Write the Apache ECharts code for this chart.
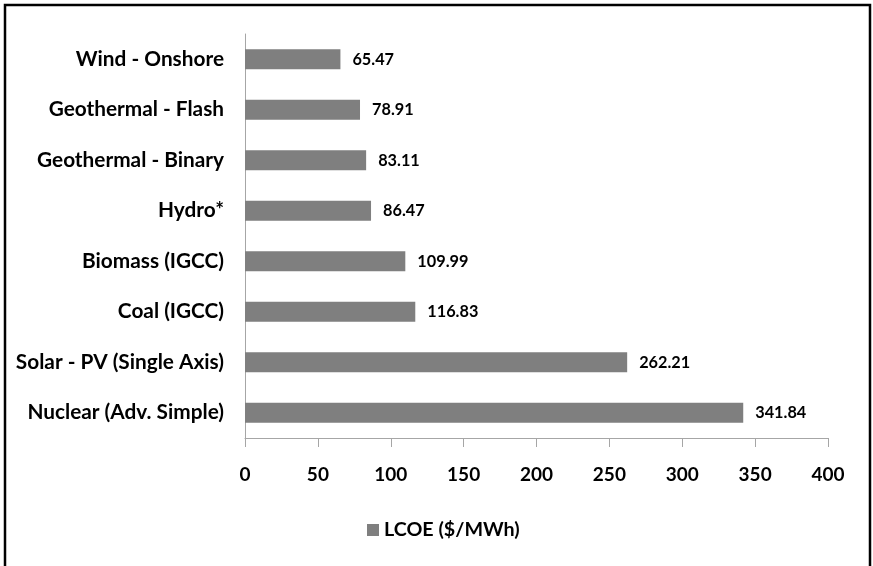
<!DOCTYPE html>
<html>
<head>
<meta charset="utf-8">
<script src="https://cdn.jsdelivr.net/npm/echarts@6/dist/echarts.min.js"></script>
<style>
html,body{margin:0;padding:0;background:#fff;}
#c{width:873px;height:566px;}
</style>
</head>
<body>
<div id="c"></div>
<script>
const categories = ['Wind - Onshore','Geothermal - Flash','Geothermal - Binary','Hydro*','Biomass (IGCC)','Coal (IGCC)','Solar - PV (Single Axis)','Nuclear (Adv. Simple)'];
const lcoe = [65.47, 78.91, 83.11, 86.47, 109.99, 116.83, 262.21, 341.84];
const seriesName = 'LCOE ($/MWh)';
const xMin = 0, xMax = 400, xStep = 50;

const FONT = 'Lato, "Open Sans", sans-serif';
const chart = echarts.init(document.getElementById('c'), null, {renderer:'canvas'});
chart.setOption({
  animation:false,
  backgroundColor:'#fff',
  graphic:[{
    type:'rect', shape:{x:5,y:5,width:865,height:620},
    style:{fill:'none',stroke:'#000',lineWidth:2.5}, silent:true
  }],
  legend:{
    data:[seriesName], left:362, top:515, itemWidth:12, itemHeight:12, itemGap:5,
    icon:'rect',
    textStyle:{fontFamily:FONT,fontWeight:'bold',fontSize:19.7,color:'#000'}
  },
  grid:{left:245,right:45,top:34,bottom:128,containLabel:false},
  xAxis:{
    type:'value', min:xMin, max:xMax, interval:xStep,
    axisLine:{show:true,lineStyle:{color:'#a6a6a6',width:1}},
    axisTick:{show:true,length:9,lineStyle:{color:'#a6a6a6'}},
    splitLine:{show:false},
    axisLabel:{fontFamily:FONT,fontWeight:'bold',fontSize:19,color:'#000',margin:27}
  },
  yAxis:{
    type:'category', data:categories, inverse:true,
    axisLine:{show:true,lineStyle:{color:'#a6a6a6',width:1}},
    axisTick:{show:false},
    axisLabel:{fontFamily:FONT,fontWeight:'bold',fontSize:20.8,color:'#000',margin:21}
  },
  series:[{
    name:seriesName, type:'bar', data:lcoe, barWidth:20,
    itemStyle:{color:'#7f7f7f'},
    label:{show:true,position:'right',distance:12,formatter:p=>p.value.toFixed(2),
      fontFamily:FONT,fontWeight:'bold',fontSize:16.3,color:'#000'}
  }]
});
</script>
</body>
</html>
